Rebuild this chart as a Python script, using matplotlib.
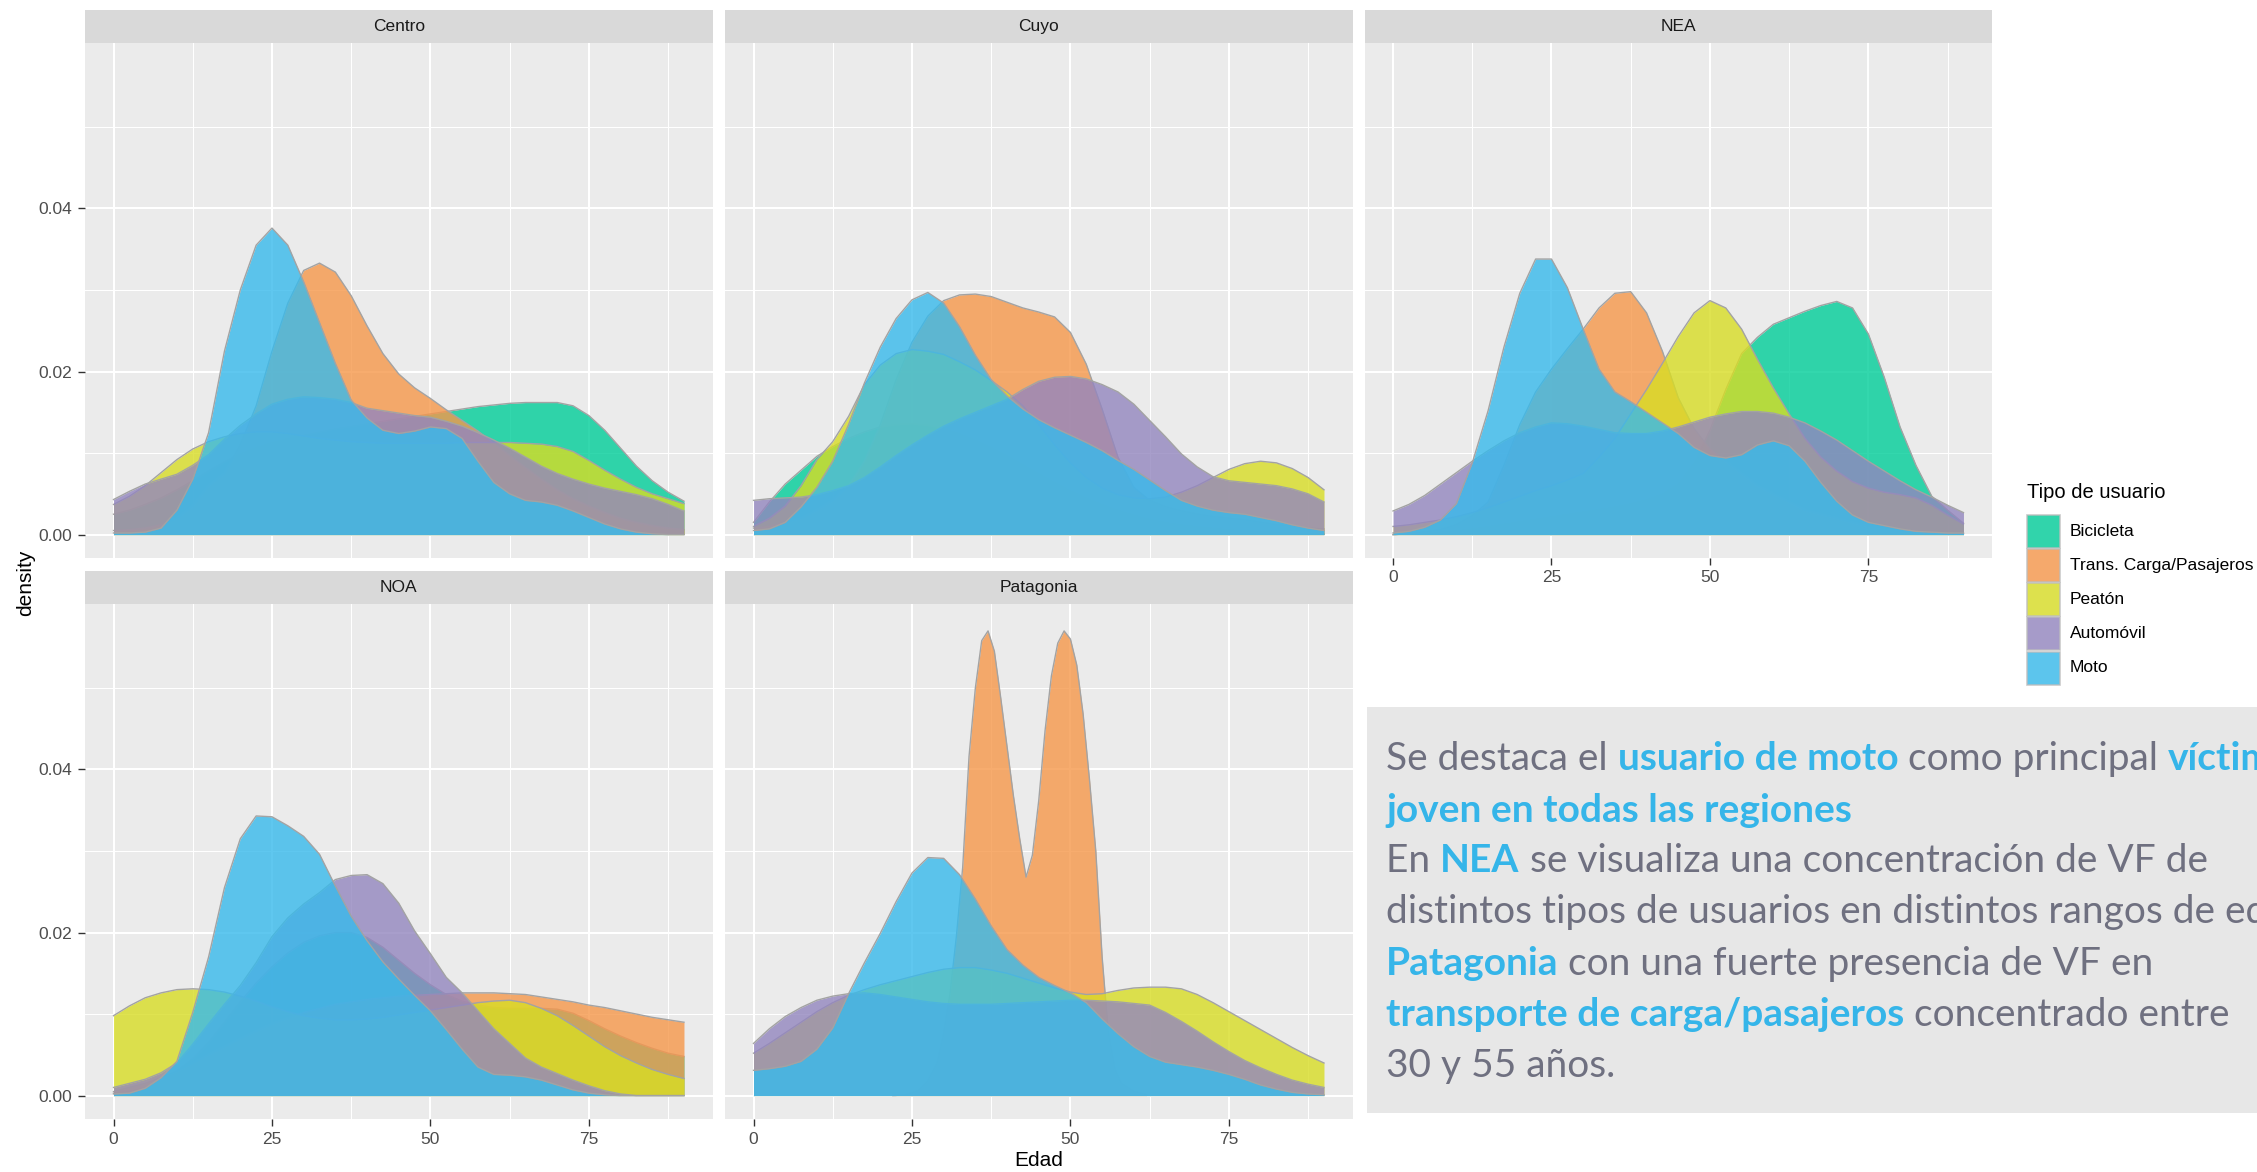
import matplotlib
matplotlib.use("Agg")
import matplotlib.pyplot as plt
from matplotlib.patches import Rectangle
from matplotlib.ticker import FixedLocator

# ---------------- data ----------------
AGES = [0, 2.5, 5, 7.5, 10, 12.5, 15, 17.5, 20, 22.5, 25, 27.5, 30, 32.5, 35, 37.5,
        40, 42.5, 45, 47.5, 50, 52.5, 55, 57.5, 60, 62.5, 65, 67.5, 70, 72.5, 75,
        77.5, 80, 82.5, 85, 87.5, 90]

TYPES = ["Bicicleta", "Trans. Carga/Pasajeros", "Peatón", "Automóvil", "Moto"]
REGIONS = ["Centro", "Cuyo", "NEA", "NOA", "Patagonia"]

CENTRO = {
    "Bicicleta": [0.0025, 0.0030, 0.0037, 0.0045, 0.0055, 0.0066, 0.0078, 0.0089, 0.0099, 0.0107,
                  0.0113, 0.0118, 0.0122, 0.0126, 0.0130, 0.0133, 0.0136, 0.0139, 0.0142, 0.0145,
                  0.0148, 0.0151, 0.0154, 0.0157, 0.0159, 0.0161, 0.0162, 0.0162, 0.0162, 0.0158,
                  0.0146, 0.0128, 0.0106, 0.0084, 0.0066, 0.0052, 0.0041],
    "Trans. Carga/Pasajeros": [0.0005, 0.0006, 0.0008, 0.0012, 0.0020, 0.0035, 0.0060, 0.0075, 0.0110, 0.0158,
                               0.0225, 0.0284, 0.0324, 0.0333, 0.0322, 0.0293, 0.0256, 0.0222, 0.0197, 0.0180,
                               0.0167, 0.0153, 0.0140, 0.0127, 0.0112, 0.0097, 0.0082, 0.0068, 0.0055, 0.0044,
                               0.0035, 0.0027, 0.0020, 0.0015, 0.0011, 0.0008, 0.0006],
    "Peatón": [0.0037, 0.0047, 0.0060, 0.0076, 0.0092, 0.0105, 0.0114, 0.0120, 0.0124, 0.0126,
               0.0126, 0.0124, 0.0121, 0.0118, 0.0116, 0.0114, 0.0113, 0.0112, 0.0112, 0.0112,
               0.0112, 0.0112, 0.0113, 0.0113, 0.0113, 0.0113, 0.0112, 0.0111, 0.0108, 0.0102,
               0.0091, 0.0079, 0.0068, 0.0058, 0.0050, 0.0044, 0.0038],
    "Automóvil": [0.0043, 0.0053, 0.0062, 0.0068, 0.0074, 0.0085, 0.0098, 0.0117, 0.0134, 0.0148,
                  0.0160, 0.0166, 0.0169, 0.0168, 0.0166, 0.0162, 0.0155, 0.0152, 0.0149, 0.0146,
                  0.0144, 0.0139, 0.0133, 0.0125, 0.0116, 0.0106, 0.0095, 0.0084, 0.0075, 0.0068,
                  0.0062, 0.0057, 0.0053, 0.0049, 0.0044, 0.0037, 0.0029],
    "Moto": [0.0002, 0.0002, 0.0003, 0.0008, 0.0030, 0.0068, 0.0125, 0.0225, 0.0300, 0.0355,
             0.0376, 0.0355, 0.0310, 0.0260, 0.0210, 0.0165, 0.0143, 0.0128, 0.0124, 0.0127,
             0.0132, 0.0130, 0.0118, 0.0090, 0.0064, 0.0050, 0.0042, 0.0040, 0.0036, 0.0029,
             0.0021, 0.0013, 0.0007, 0.0003, 0.0001, 0.0000, 0.0000],
}

CUYO = {
    "Bicicleta": [0.0015, 0.0040, 0.0062, 0.0079, 0.0096, 0.0108, 0.0118, 0.0126, 0.0132, 0.0135,
                  0.0136, 0.0134, 0.0130, 0.0124, 0.0116, 0.0107, 0.0097, 0.0086, 0.0075, 0.0064,
                  0.0054, 0.0045, 0.0037, 0.0030, 0.0024, 0.0019, 0.0015, 0.0012, 0.0010, 0.0008,
                  0.0006, 0.0005, 0.0004, 0.0003, 0.0002, 0.0001, 0.0001],
    "Trans. Carga/Pasajeros": [0.0008, 0.0010, 0.0015, 0.0020, 0.0030, 0.0042, 0.0060, 0.0090, 0.0135, 0.0190,
                               0.0236, 0.0268, 0.0287, 0.0294, 0.0295, 0.0292, 0.0285, 0.0278, 0.0273, 0.0267,
                               0.0248, 0.0209, 0.0154, 0.0095, 0.0058, 0.0042, 0.0034, 0.0029, 0.0025, 0.0022,
                               0.0020, 0.0018, 0.0015, 0.0012, 0.0010, 0.0008, 0.0007],
    "Peatón": [0.0010, 0.0020, 0.0035, 0.0060, 0.0092, 0.0114, 0.0145, 0.0184, 0.0208, 0.0222,
               0.0227, 0.0225, 0.0221, 0.0212, 0.0202, 0.0189, 0.0175, 0.0158, 0.0135, 0.0110,
               0.0088, 0.0070, 0.0057, 0.0049, 0.0045, 0.0044, 0.0046, 0.0052, 0.0060, 0.0070,
               0.0080, 0.0087, 0.0090, 0.0088, 0.0081, 0.0070, 0.0055],
    "Automóvil": [0.0042, 0.0044, 0.0045, 0.0046, 0.0049, 0.0054, 0.0060, 0.0070, 0.0083, 0.0097,
                  0.0110, 0.0122, 0.0133, 0.0142, 0.0150, 0.0158, 0.0166, 0.0178, 0.0188, 0.0193,
                  0.0194, 0.0191, 0.0184, 0.0175, 0.0160, 0.0140, 0.0120, 0.0099, 0.0083, 0.0071,
                  0.0066, 0.0064, 0.0062, 0.0060, 0.0056, 0.0050, 0.0040],
    "Moto": [0.0005, 0.0007, 0.0015, 0.0034, 0.0058, 0.0090, 0.0135, 0.0186, 0.0230, 0.0265,
             0.0288, 0.0297, 0.0284, 0.0255, 0.0220, 0.0190, 0.0170, 0.0154, 0.0141, 0.0131,
             0.0122, 0.0113, 0.0103, 0.0091, 0.0080, 0.0067, 0.0054, 0.0042, 0.0035, 0.0030,
             0.0027, 0.0025, 0.0021, 0.0017, 0.0012, 0.0008, 0.0005],
}

NEA = {
    "Bicicleta": [0.0000, 0.0001, 0.0002, 0.0003, 0.0005, 0.0007, 0.0010, 0.0013, 0.0016, 0.0019,
                  0.0022, 0.0025, 0.0028, 0.0031, 0.0034, 0.0038, 0.0043, 0.0050, 0.0062, 0.0088,
                  0.0128, 0.0178, 0.0222, 0.0242, 0.0258, 0.0266, 0.0274, 0.0281, 0.0286, 0.0278,
                  0.0246, 0.0193, 0.0132, 0.0085, 0.0047, 0.0030, 0.0014],
    "Trans. Carga/Pasajeros": [0.0000, 0.0001, 0.0003, 0.0006, 0.0012, 0.0023, 0.0040, 0.0085, 0.0135, 0.0175,
                               0.0203, 0.0228, 0.0252, 0.0278, 0.0296, 0.0298, 0.0272, 0.0225, 0.0168, 0.0130,
                               0.0105, 0.0090, 0.0075, 0.0060, 0.0050, 0.0040, 0.0030, 0.0025, 0.0020, 0.0015,
                               0.0010, 0.0008, 0.0006, 0.0004, 0.0003, 0.0002, 0.0001],
    "Peatón": [0.0010, 0.0012, 0.0015, 0.0018, 0.0022, 0.0027, 0.0033, 0.0040, 0.0047, 0.0054,
               0.0060, 0.0067, 0.0075, 0.0095, 0.0118, 0.0148, 0.0178, 0.0210, 0.0243, 0.0272,
               0.0287, 0.0278, 0.0252, 0.0215, 0.0180, 0.0148, 0.0118, 0.0095, 0.0078, 0.0065,
               0.0057, 0.0052, 0.0049, 0.0045, 0.0036, 0.0024, 0.0013],
    "Automóvil": [0.0029, 0.0037, 0.0048, 0.0062, 0.0076, 0.0090, 0.0103, 0.0115, 0.0125, 0.0132,
                  0.0137, 0.0136, 0.0133, 0.0129, 0.0125, 0.0124, 0.0124, 0.0127, 0.0132, 0.0138,
                  0.0144, 0.0148, 0.0151, 0.0151, 0.0149, 0.0144, 0.0137, 0.0127, 0.0116, 0.0103,
                  0.0090, 0.0078, 0.0066, 0.0055, 0.0046, 0.0036, 0.0027],
    "Moto": [0.0002, 0.0004, 0.0009, 0.0018, 0.0038, 0.0088, 0.0152, 0.0230, 0.0296, 0.0338,
             0.0338, 0.0303, 0.0252, 0.0203, 0.0175, 0.0163, 0.0150, 0.0137, 0.0124, 0.0107,
             0.0097, 0.0094, 0.0098, 0.0110, 0.0115, 0.0109, 0.0090, 0.0064, 0.0041, 0.0024,
             0.0015, 0.0011, 0.0007, 0.0004, 0.0003, 0.0002, 0.0002],
}

NOA = {
    "Bicicleta": [0.0003, 0.0005, 0.0010, 0.0018, 0.0030, 0.0045, 0.0065, 0.0090, 0.0115, 0.0138,
                  0.0158, 0.0175, 0.0188, 0.0196, 0.0200, 0.0200, 0.0194, 0.0182, 0.0166, 0.0150,
                  0.0136, 0.0124, 0.0116, 0.0111, 0.0108, 0.0107, 0.0107, 0.0107, 0.0106, 0.0101,
                  0.0092, 0.0082, 0.0073, 0.0065, 0.0058, 0.0052, 0.0048],
    "Trans. Carga/Pasajeros": [0.0005, 0.0010, 0.0015, 0.0022, 0.0030, 0.0040, 0.0050, 0.0060, 0.0070, 0.0079,
                               0.0088, 0.0095, 0.0102, 0.0107, 0.0112, 0.0115, 0.0118, 0.0120, 0.0122, 0.0123,
                               0.0124, 0.0125, 0.0126, 0.0126, 0.0126, 0.0125, 0.0124, 0.0121, 0.0118, 0.0115,
                               0.0111, 0.0108, 0.0104, 0.0100, 0.0096, 0.0093, 0.0090],
    "Peatón": [0.0098, 0.0110, 0.0120, 0.0126, 0.0130, 0.0131, 0.0130, 0.0127, 0.0122, 0.0116,
               0.0109, 0.0103, 0.0098, 0.0095, 0.0093, 0.0093, 0.0094, 0.0096, 0.0099, 0.0102,
               0.0105, 0.0108, 0.0111, 0.0114, 0.0116, 0.0117, 0.0114, 0.0107, 0.0098, 0.0086,
               0.0073, 0.0060, 0.0049, 0.0040, 0.0032, 0.0026, 0.0021],
    "Automóvil": [0.0010, 0.0015, 0.0020, 0.0028, 0.0040, 0.0063, 0.0088, 0.0112, 0.0135, 0.0163,
                  0.0195, 0.0218, 0.0235, 0.0249, 0.0265, 0.0270, 0.0271, 0.0260, 0.0236, 0.0202,
                  0.0174, 0.0145, 0.0126, 0.0104, 0.0082, 0.0064, 0.0046, 0.0035, 0.0027, 0.0019,
                  0.0012, 0.0006, 0.0002, 0.0000, 0.0000, 0.0000, 0.0000],
    "Moto": [0.0002, 0.0003, 0.0009, 0.0022, 0.0042, 0.0102, 0.0170, 0.0255, 0.0315, 0.0343,
             0.0342, 0.0331, 0.0318, 0.0296, 0.0257, 0.0220, 0.0190, 0.0164, 0.0143, 0.0123,
             0.0104, 0.0081, 0.0057, 0.0035, 0.0026, 0.0025, 0.0023, 0.0019, 0.0013, 0.0007,
             0.0003, 0.0001, 0.0000, 0.0000, 0.0000, 0.0000, 0.0000],
}

PAT_TRANS_AGES = [22, 24, 26, 27.5, 29, 30, 31, 32, 33, 34, 35, 36, 37, 38, 39, 40, 41, 42,
                  43, 44, 45, 46, 47, 48, 49, 50, 51, 52, 53, 54, 55, 56, 57, 58, 60, 62]
PAT_TRANS = [0.0000, 0.0001, 0.0006, 0.0018, 0.0040, 0.0075, 0.0125, 0.0195, 0.0280, 0.0416,
             0.0500, 0.0558, 0.0570, 0.0545, 0.0488, 0.0428, 0.0368, 0.0315, 0.0268, 0.0295,
             0.0362, 0.0448, 0.0515, 0.0555, 0.0570, 0.0560, 0.0528, 0.0468, 0.0388, 0.0300,
             0.0170, 0.0075, 0.0032, 0.0015, 0.0005, 0.0001]

PATAGONIA = {
    "Trans. Carga/Pasajeros": PAT_TRANS,
    "Peatón": [0.0052, 0.0064, 0.0077, 0.0090, 0.0103, 0.0114, 0.0123, 0.0130, 0.0136, 0.0141,
               0.0146, 0.0151, 0.0155, 0.0157, 0.0157, 0.0154, 0.0150, 0.0144, 0.0138, 0.0132,
               0.0127, 0.0124, 0.0125, 0.0129, 0.0132, 0.0133, 0.0133, 0.0131, 0.0124, 0.0114,
               0.0103, 0.0092, 0.0081, 0.0070, 0.0059, 0.0049, 0.0040],
    "Automóvil": [0.0064, 0.0082, 0.0097, 0.0108, 0.0117, 0.0122, 0.0125, 0.0126, 0.0124, 0.0121,
                  0.0118, 0.0115, 0.0113, 0.0112, 0.0112, 0.0112, 0.0113, 0.0114, 0.0115, 0.0116,
                  0.0117, 0.0117, 0.0116, 0.0115, 0.0113, 0.0111, 0.0102, 0.0091, 0.0079, 0.0066,
                  0.0054, 0.0043, 0.0034, 0.0026, 0.0019, 0.0014, 0.0010],
    "Moto": [0.0031, 0.0033, 0.0036, 0.0042, 0.0057, 0.0083, 0.0125, 0.0163, 0.0199, 0.0238,
             0.0273, 0.0292, 0.0291, 0.0271, 0.0241, 0.0208, 0.0179, 0.0160, 0.0145, 0.0135,
             0.0126, 0.0114, 0.0094, 0.0076, 0.0060, 0.0048, 0.0041, 0.0038, 0.0035, 0.0031,
             0.0026, 0.0020, 0.0013, 0.0008, 0.0004, 0.0002, 0.0001],
}

REGION_DATA = {"Centro": CENTRO, "Cuyo": CUYO, "NEA": NEA, "NOA": NOA, "Patagonia": PATAGONIA}
SERIES_AGES = {("Patagonia", "Trans. Carga/Pasajeros"): PAT_TRANS_AGES}

X_TICKS = [0, 25, 50, 75]
X_MINOR = [12.5, 37.5, 62.5, 87.5]
Y_TICKS = [0.00, 0.02, 0.04]
Y_MINOR = [0.01, 0.03, 0.05]

# ---------------- style ----------------
COLORS = {
    "Bicicleta": "#00CD99",
    "Trans. Carga/Pasajeros": "#F6974A",
    "Peatón": "#D8DD24",
    "Automóvil": "#9386BF",
    "Moto": "#37BAEC",
}
ALPHA = 0.8
OUTLINE = "#A3A3A3"
PANEL_BG = "#EBEBEB"
STRIP_BG = "#D9D9D9"
FONT = "Liberation Sans"

W, H = 2257, 1172
fig = plt.figure(figsize=(W / 100, H / 100), dpi=100)
fig.patch.set_facecolor("white")


def fx(px):
    return px / W


def fy(py):
    return 1 - py / H


PANEL_LEFT = [85, 725, 1364.5]
PANEL_W = 627.5
ROW_TOP = [43, 604]
PANEL_H = 515
STRIP_H = 33

for i, region in enumerate(REGIONS):
    r, c = divmod(i, 3)
    ax = fig.add_axes([fx(PANEL_LEFT[c]), fy(ROW_TOP[r] + PANEL_H), PANEL_W / W, PANEL_H / H])
    ax.set_facecolor(PANEL_BG)
    for s in ax.spines.values():
        s.set_visible(False)
    ax.set_xlim(-4.5, 94.5)
    ax.set_ylim(-0.00287, 0.0603)
    ax.xaxis.set_major_locator(FixedLocator(X_TICKS))
    ax.xaxis.set_minor_locator(FixedLocator(X_MINOR))
    ax.yaxis.set_major_locator(FixedLocator(Y_TICKS))
    ax.yaxis.set_minor_locator(FixedLocator(Y_MINOR))
    ax.grid(which="major", color="white", lw=1.5)
    ax.grid(which="minor", color="white", lw=0.75)
    ax.set_axisbelow(True)
    ax.tick_params(which="minor", length=0)

    data = REGION_DATA[region]
    for typ in TYPES:
        if typ not in data:
            continue
        ys = data[typ]
        xs = SERIES_AGES.get((region, typ), AGES)
        ax.fill_between(xs, 0, ys, color=COLORS[typ], alpha=ALPHA, lw=0, zorder=2)
        ax.plot(xs, ys, color=OUTLINE, lw=1.0, zorder=2)

    show_x = (r == 1) or (c == 2)
    show_y = (c == 0)
    ax.set_xticklabels([str(v) for v in X_TICKS])
    ax.set_yticklabels(["%.2f" % v for v in Y_TICKS])
    ax.tick_params(axis="x", which="major", labelbottom=show_x, length=5 if show_x else 0,
                   width=1, color="#333333", labelsize=12.5, labelcolor="#4D4D4D", pad=4)
    ax.tick_params(axis="y", which="major", labelleft=show_y, length=5 if show_y else 0,
                   width=1, color="#333333", labelsize=12.5, labelcolor="#4D4D4D", pad=4)
    for lab in ax.get_xticklabels() + ax.get_yticklabels():
        lab.set_fontfamily(FONT)

    sax = fig.add_axes([fx(PANEL_LEFT[c]), fy(ROW_TOP[r]), PANEL_W / W, STRIP_H / H])
    sax.set_facecolor(STRIP_BG)
    sax.set_xticks([])
    sax.set_yticks([])
    for s in sax.spines.values():
        s.set_visible(False)
    sax.text(0.5, 0.5, region, ha="center", va="center", fontsize=12.5, color="#1A1A1A",
             family=FONT, transform=sax.transAxes)

# axis titles
fig.text(fx(26), fy(583), "density", rotation=90, ha="center", va="center",
         fontsize=15, color="black", family=FONT)
fig.text(fx(1039), fy(1160), "Edad", ha="center", va="center",
         fontsize=15, color="black", family=FONT)

# legend
fig.text(fx(2027), fy(492), "Tipo de usuario", ha="left", va="center",
         fontsize=14.5, color="black", family=FONT)
KEY_Y = [531, 565.5, 599.5, 633.5, 668]
KEY_S = 33
for typ, ky in zip(TYPES, KEY_Y):
    fig.patches.append(Rectangle((fx(2027), fy(ky + KEY_S / 2)), KEY_S / W, KEY_S / H,
                                 transform=fig.transFigure, facecolor="#F2F2F2",
                                 edgecolor="none", zorder=1))
    fig.patches.append(Rectangle((fx(2027), fy(ky + KEY_S / 2)), KEY_S / W, KEY_S / H,
                                 transform=fig.transFigure, facecolor=COLORS[typ], alpha=ALPHA,
                                 edgecolor="#BDBDBD", lw=1.2, zorder=2))
    fig.text(fx(2070), fy(ky), typ, ha="left", va="center", fontsize=12.5,
             color="black", family=FONT)

# text box
fig.patches.append(Rectangle((fx(1367), fy(1113)), (W - 1367) / W, (1113 - 707) / H,
                             transform=fig.transFigure, facecolor="#E7E7E7",
                             edgecolor="none", zorder=0))

GRAY = "#6F7080"
BLUE = "#35B5E9"
LINES = [
    [("Se destaca el ", GRAY, "normal"), ("usuario de moto", BLUE, "bold"),
     (" como principal ", GRAY, "normal"), ("víctima", BLUE, "bold")],
    [("joven en todas las regiones", BLUE, "bold")],
    [("En ", GRAY, "normal"), ("NEA", BLUE, "bold"),
     (" se visualiza una concentración de VF de", GRAY, "normal")],
    [("distintos tipos de usuarios en distintos rangos de edad.", GRAY, "normal")],
    [("Patagonia", BLUE, "bold"), (" con una fuerte presencia de VF en", GRAY, "normal")],
    [("transporte de carga/pasajeros", BLUE, "bold"), (" concentrado entre", GRAY, "normal")],
    [("30 y 55 años.", GRAY, "normal")],
]
LINE_Y = [758.6, 810.0, 861.0, 912.5, 963.5, 1015.0, 1066.5]
TEXT_FONT = "Lato"

renderer = fig.canvas.get_renderer()


def seg_width(s, size, weight):
    t1 = fig.text(0, 0, "|" + s + "|", fontsize=size, weight=weight, family=TEXT_FONT)
    t2 = fig.text(0, 0, "||", fontsize=size, weight=weight, family=TEXT_FONT)
    w = t1.get_window_extent(renderer).width - t2.get_window_extent(renderer).width
    t1.remove()
    t2.remove()
    return w


base = 28
measured = sum(seg_width(s, base, wgt) for s, _, wgt in LINES[2])
fs = base * 821.0 / measured

for segs, ly in zip(LINES, LINE_Y):
    x = 1386.0
    for s, col, wgt in segs:
        fig.text(fx(x), fy(ly), s, ha="left", va="center", fontsize=fs, color=col,
                 weight=wgt, family=TEXT_FONT)
        x += seg_width(s, fs, wgt)

fig.savefig("out.png", dpi=100, facecolor="white")
